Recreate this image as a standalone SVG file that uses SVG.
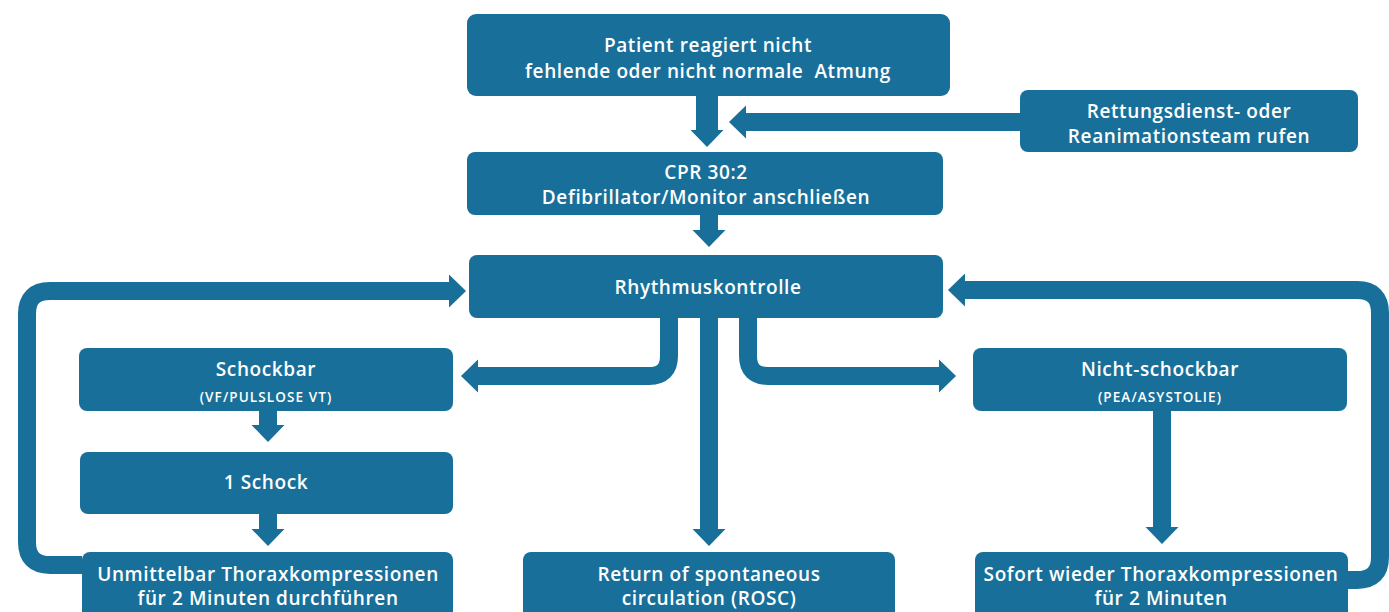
<svg xmlns="http://www.w3.org/2000/svg" width="1389" height="612" viewBox="0 0 1389 612">
<style>
.box{fill:#18709a;}
.t{fill:#ffffff;font-family:"Open Sans",Lato,"Liberation Sans",sans-serif;font-weight:600;font-size:19px;letter-spacing:0.6px;text-anchor:middle;}
.s{font-size:13.5px;letter-spacing:1.1px;}
.c{fill:none;stroke:#18709a;stroke-width:18;}
</style>
<defs>
<marker id="ah" markerUnits="userSpaceOnUse" viewBox="0 -17 18 34" markerWidth="18" markerHeight="34" refX="1" refY="0" orient="auto">
<path d="M0,-16.5 L17,0 L0,16.5 Z" fill="#18709a"/>
</marker>
</defs>
<rect width="1389" height="612" fill="#ffffff"/>
<g id="connectors">
<path class="c" d="M707,96 V131" marker-end="url(#ah)" style="stroke-width:22"/>
<path class="c" d="M1020,122 H745" marker-end="url(#ah)"/>
<path class="c" d="M709,214 V231" marker-end="url(#ah)"/>
<path class="c" d="M709,318 V530" marker-end="url(#ah)"/>
<path class="c" d="M669,318 V356 Q669,376 649,376 H477" marker-end="url(#ah)"/>
<path class="c" d="M748,318 V356 Q748,376 768,376 H940" marker-end="url(#ah)"/>
<path class="c" d="M268,411 V426" marker-end="url(#ah)"/>
<path class="c" d="M268,514 V530" marker-end="url(#ah)"/>
<path class="c" d="M82,565 H50 Q27,565 27,542 V314 Q27,291 50,291 H450" marker-end="url(#ah)"/>
<path class="c" d="M1162,411 V528" marker-end="url(#ah)"/>
<path class="c" d="M1346,580 H1357 Q1380,580 1380,557 V313 Q1380,290 1357,290 H964" marker-end="url(#ah)"/>
</g>
<g id="n_patient">
<rect class="box" x="467" y="14" width="483" height="82" rx="9"/>
<text class="t" x="708" y="52">Patient reagiert nicht</text>
<text class="t" x="708" y="78" xml:space="preserve">fehlende oder nicht normale  Atmung</text>
</g>
<g id="n_rettung">
<rect class="box" x="1020" y="90" width="338" height="62" rx="8"/>
<text class="t" x="1189" y="118">Rettungsdienst- oder</text>
<text class="t" x="1189" y="143">Reanimationsteam rufen</text>
</g>
<g id="n_cpr">
<rect class="box" x="467" y="152" width="476" height="63" rx="8"/>
<text class="t" x="706" y="179">CPR 30:2</text>
<text class="t" x="706" y="204">Defibrillator/Monitor anschließen</text>
</g>
<g id="n_rhythmus">
<rect class="box" x="469" y="255" width="474" height="63" rx="8"/>
<text class="t" x="708" y="294">Rhythmuskontrolle</text>
</g>
<g id="n_schockbar">
<rect class="box" x="79" y="348" width="374" height="63" rx="8"/>
<text class="t" x="266" y="376">Schockbar</text>
<text class="t s" x="266" y="402">(VF/PULSLOSE VT)</text>
</g>
<g id="n_schock">
<rect class="box" x="80" y="452" width="373" height="62" rx="8"/>
<text class="t" x="266" y="489">1 Schock</text>
</g>
<g id="n_unmittelbar">
<rect class="box" x="82" y="552" width="371" height="75" rx="8"/>
<text class="t" x="268" y="581">Unmittelbar Thoraxkompressionen</text>
<text class="t" x="268" y="605">für 2 Minuten durchführen</text>
</g>
<g id="n_rosc">
<rect class="box" x="523" y="552" width="372" height="75" rx="8"/>
<text class="t" x="709" y="581">Return of spontaneous</text>
<text class="t" x="709" y="605">circulation (ROSC)</text>
</g>
<g id="n_nicht">
<rect class="box" x="973" y="348" width="374" height="63" rx="8"/>
<text class="t" x="1160" y="376">Nicht-schockbar</text>
<text class="t s" x="1160" y="402">(PEA/ASYSTOLIE)</text>
</g>
<g id="n_sofort">
<rect class="box" x="975" y="552" width="373" height="75" rx="8"/>
<text class="t" x="1161" y="581">Sofort wieder Thoraxkompressionen</text>
<text class="t" x="1161" y="605">für 2 Minuten</text>
</g>
</svg>
